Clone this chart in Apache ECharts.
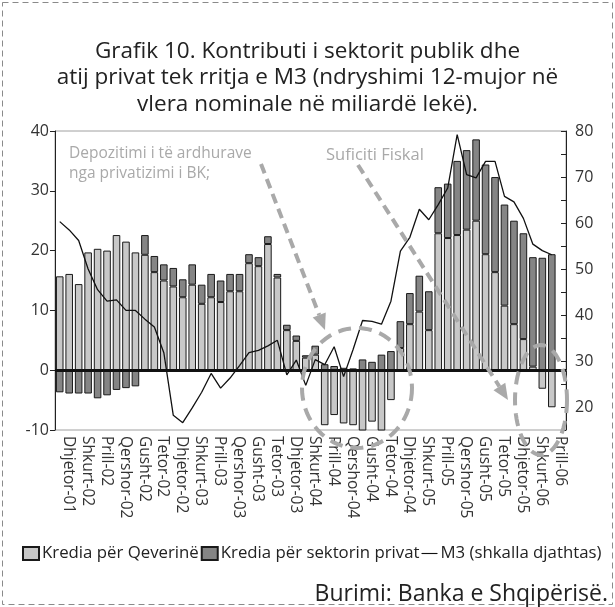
<!DOCTYPE html>
<html>
<head>
<meta charset="utf-8">
<style>
  html, body { margin: 0; padding: 0; background: #fff; }
  #chart { width: 615px; height: 607px; }
</style>
<script src="https://cdn.jsdelivr.net/npm/echarts@6/dist/echarts.min.js"></script>
</head>
<body>
<div id="chart"></div>
<script>
// muajt (Dhjetor-01 ... Maj-06), etiketa cdo dy muaj
const months = [
    'Dhjetor-01', 'Janar-02', 'Shkurt-02', 'Mars-02', 'Prill-02', 'Maj-02', 'Qershor-02', 'Korrik-02',
    'Gusht-02', 'Shtator-02', 'Tetor-02', 'Nëntor-02', 'Dhjetor-02', 'Janar-03', 'Shkurt-03', 'Mars-03',
    'Prill-03', 'Maj-03', 'Qershor-03', 'Korrik-03', 'Gusht-03', 'Shtator-03', 'Tetor-03', 'Nëntor-03',
    'Dhjetor-03', 'Janar-04', 'Shkurt-04', 'Mars-04', 'Prill-04', 'Maj-04', 'Qershor-04', 'Korrik-04',
    'Gusht-04', 'Shtator-04', 'Tetor-04', 'Nëntor-04', 'Dhjetor-04', 'Janar-05', 'Shkurt-05', 'Mars-05',
    'Prill-05', 'Maj-05', 'Qershor-05', 'Korrik-05', 'Gusht-05', 'Shtator-05', 'Tetor-05', 'Nëntor-05',
    'Dhjetor-05', 'Janar-06', 'Shkurt-06', 'Mars-06', 'Prill-06', 'Maj-06'
];

// Kredia per Qeverine (shkalla majtas)
const govCredit = [
    15.7, 16.1, 14.4, 19.7, 20.3, 20.0, 22.6, 21.5, 19.7, 19.3, 16.4, 15.0,
    14.0, 12.2, 14.3, 11.1, 12.2, 11.4, 13.2, 13.2, 17.9, 17.4, 21.1, 15.5,
    6.7, 4.9, 2.1, 2.6, -9.2, -7.5, -8.9, -9.2, -10.6, -8.6, -10.6, -5.0,
    3.7, 7.7, 9.8, 6.7, 22.9, 22.1, 22.6, 23.5, 25.0, 19.4, 16.4, 10.8,
    7.7, 5.2, 0.6, -3.1, -6.2, null
];

// Kredia per sektorin privat (shkalla majtas)
const privCredit = [
    -3.7, -3.9, -3.9, -3.9, -4.7, -4.2, -3.3, -3.0, -2.7, 3.3, 2.7, 2.7,
    3.1, 3.0, 3.4, 3.2, 3.9, 3.6, 2.9, 2.9, 1.5, 1.5, 1.3, 0.6,
    0.9, 0.9, 0.4, 1.5, 1.0, 0.7, 0.4, 0.3, 1.8, 1.4, 2.6, 3.2,
    4.5, 5.2, 6.0, 6.5, 7.7, 9.1, 12.4, 13.3, 13.6, 15.0, 15.9, 16.9,
    17.3, 17.7, 18.3, 18.8, 19.4, null
];

// M3, ndryshimi 12-mujor (shkalla djathtas)
const m3 = [
    60.3, 58.5, 56.2, 50.0, 45.5, 43.0, 43.3, 41.0, 41.0, 39.1, 37.4, 31.8,
    18.2, 16.6, 19.8, 23.2, 27.3, 24.1, 26.3, 29.0, 31.8, 32.3, 33.3, 34.5,
    27.0, 30.2, 24.7, 30.3, 29.2, 33.1, 26.6, 32.5, 38.8, 38.6, 38.0, 43.0,
    53.9, 56.9, 63.0, 60.7, 64.0, 67.6, 79.2, 70.5, 69.8, 73.4, 73.4, 65.8,
    64.6, 61.0, 55.4, 54.0, 53.1, null
];

const titleText = 'Grafik 10. Kontributi i sektorit publik dhe\n' +
    'atij privat tek rritja e M3 (ndryshimi 12-mujor në\n' +
    'vlera nominale në miliardë lekë).';

const FONT = '"Open Sans"';
const GRAY = '#a9a9a9';

// elips me vija te nderprera (shenim)
const ellipse = (cx, cy, rx, ry) => {
    const pts = [];
    for (let i = 0; i <= 72; i++) {
        const a = i / 72 * Math.PI * 2;
        pts.push([cx + rx * Math.cos(a), cy + ry * Math.sin(a)]);
    }
    return {
        type: 'polyline',
        z: 100,
        shape: {points: pts},
        style: {stroke: GRAY, lineWidth: 4, lineDash: [13, 8], fill: null},
    };
};

// shigjete me vija te nderprera
const arrow = (x1, y1, x2, y2) => {
    const ang = Math.atan2(y2 - y1, x2 - x1);
    const len = 16;
    const w = 7;
    const bx = x2 - len * Math.cos(ang);
    const by = y2 - len * Math.sin(ang);
    const nx = -Math.sin(ang);
    const ny = Math.cos(ang);
    return [
        {
            type: 'polyline',
            z: 100,
            shape: {points: [[x1, y1], [bx, by]]},
            style: {stroke: GRAY, lineWidth: 4, lineDash: [10, 6], fill: null},
        },
        {
            type: 'polygon',
            z: 100,
            shape: {points: [[x2, y2], [bx + nx * w, by + ny * w], [bx - nx * w, by - ny * w]]},
            style: {fill: GRAY},
        },
    ];
};

const chart = echarts.init(document.getElementById('chart'));

chart.setOption({
    animation: false,
    title: {
        text: titleText,
        left: 'center',
        top: 33,
        textStyle: {fontFamily: FONT, fontSize: 22.5, fontWeight: 'normal', color: '#222', lineHeight: 26.5},
    },
    legend: {
        left: 17,
        top: 540,
        itemWidth: 16,
        itemHeight: 13,
        itemGap: 2,
        textStyle: {fontFamily: FONT, fontSize: 16.8, color: '#222', padding: [0, 0, 0, -2]},
        data: [
            {name: 'Kredia për Qeverinë', icon: 'rect'},
            {name: 'Kredia për sektorin privat', icon: 'rect'},
            {name: 'M3 (shkalla djathtas)', icon: 'path://M0,0 L20,0 L20,1.4 L0,1.4 Z'},
        ],
    },
    grid: {
        left: 55,
        right: 49,
        top: 131,
        bottom: 177,
        show: true,
        borderColor: '#a0a0a0',
        borderWidth: 1,
    },
    xAxis: {
        type: 'category',
        data: months,
        axisLine: {lineStyle: {color: '#a0a0a0'}},
        axisTick: {show: false},
        axisLabel: {
            interval: idx => idx % 2 === 0,
            showMinLabel: true,
            hideOverlap: false,
            rotate: -90,
            margin: 6,
            verticalAlign: 'bottom',
            lineHeight: 17,
            fontFamily: FONT,
            fontSize: 15.5,
            color: '#333',
        },
    },
    yAxis: [
        {
            type: 'value',
            min: -10,
            max: 40,
            interval: 10,
            position: 'left',
            splitLine: {show: false},
            axisLine: {show: true, lineStyle: {color: '#222'}},
            axisTick: {show: true, length: 5, lineStyle: {color: '#222'}},
            axisLabel: {fontFamily: FONT, fontSize: 16, color: '#333', margin: 6},
        },
        {
            type: 'value',
            min: 15,
            max: 80,
            interval: 5,
            position: 'right',
            splitLine: {show: false},
            axisLine: {show: true, lineStyle: {color: '#222'}},
            axisTick: {show: true, inside: true, length: 5, lineStyle: {color: '#222'}},
            axisLabel: {
                fontFamily: FONT,
                fontSize: 16,
                color: '#333',
                margin: 9,
                formatter: v => (v % 10 === 0 ? String(v) : ''),
            },
        },
    ],
    series: [
        {
            name: 'Kredia për Qeverinë',
            type: 'bar',
            stack: 'kredia',
            data: govCredit,
            barCategoryGap: '20%',
            itemStyle: {color: '#c8c8c8', borderColor: '#1a1a1a', borderWidth: 1},
            markLine: {
                silent: true,
                symbol: 'none',
                label: {show: false},
                lineStyle: {color: '#111', width: 3, type: 'solid'},
                data: [{yAxis: 0}],
                z: 10,
            },
        },
        {
            name: 'Kredia për sektorin privat',
            type: 'bar',
            stack: 'kredia',
            data: privCredit,
            itemStyle: {color: '#858585', borderColor: '#1a1a1a', borderWidth: 1},
        },
        {
            name: 'M3 (shkalla djathtas)',
            type: 'line',
            yAxisIndex: 1,
            data: m3,
            symbol: 'none',
            z: 5,
            lineStyle: {color: '#111', width: 1.3},
            itemStyle: {color: '#111'},
        },
    ],
    graphic: [
        {
            type: 'rect',
            z: 0,
            shape: {x: 2.5, y: 2.5, width: 610, height: 602},
            style: {fill: null, stroke: '#8a8a8a', lineWidth: 1, lineDash: [6, 4]},
        },
        {
            type: 'text',
            z: 100,
            left: 69,
            top: 144,
            style: {
                text: 'Depozitimi i të ardhurave\nnga privatizimi i BK;',
                font: '15.5px ' + FONT,
                fill: GRAY,
                lineHeight: 20,
            },
        },
        {
            type: 'text',
            z: 100,
            left: 326,
            top: 147,
            style: {text: 'Suficiti Fiskal', font: '16.5px ' + FONT, fill: GRAY},
        },
        ...arrow(261, 164, 325, 330),
        ...arrow(358, 165, 508, 400),
        ellipse(357, 388, 55, 60),
        ellipse(541, 400, 26, 55),
        {
            type: 'text',
            z: 100,
            right: 7,
            top: 583,
            style: {text: 'Burimi: Banka e Shqipërisë.', font: '23px ' + FONT, fill: '#222'},
        },
    ],
});
</script>
</body>
</html>
